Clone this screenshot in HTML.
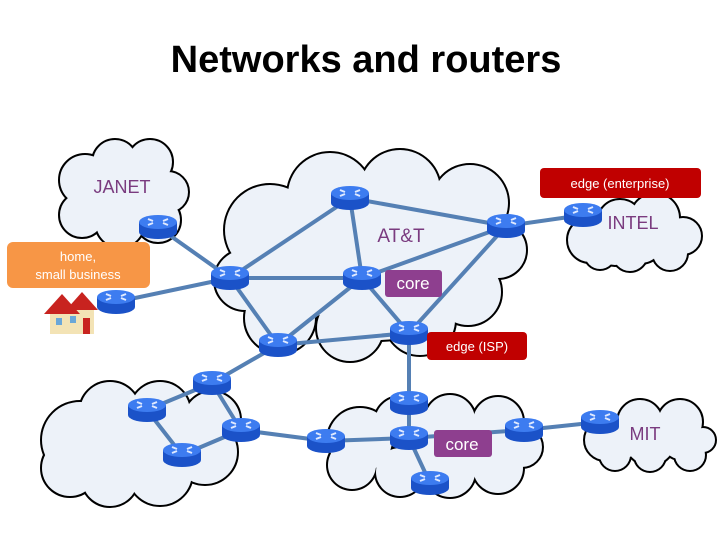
<!DOCTYPE html>
<html><head><meta charset="utf-8"><style>
body{margin:0;width:720px;height:540px;background:#fff;overflow:hidden;font-family:"Liberation Sans",sans-serif}
</style></head><body>
<svg width="720" height="540" viewBox="0 0 720 540" xmlns="http://www.w3.org/2000/svg">
<defs>
<g id="r">
<rect x="-19" y="-5" width="38" height="10" fill="#1b52c8"/>
<ellipse cx="0" cy="5" rx="19" ry="7" fill="#1b52c8"/>
<ellipse cx="0" cy="-5" rx="19" ry="7" fill="#3d7cf0"/>
<path d="M-10,-8 l5,2 M10,-8 l-5,2 M-10,-2 l5,-2 M10,-2 l-5,-2" stroke="#dfe9ff" stroke-width="2"/>
</g>
</defs>
<text x="366" y="72" font-size="38" font-weight="bold" text-anchor="middle" fill="#000">Networks and routers</text>
<g fill="#000" stroke="#000" stroke-width="4">
<g id="c1"><circle cx="85" cy="180" r="25"/><circle cx="115" cy="162" r="22"/><circle cx="150" cy="162" r="22"/><circle cx="168" cy="192" r="20"/><circle cx="158" cy="220" r="22"/><circle cx="120" cy="223" r="24"/><circle cx="82" cy="215" r="22"/><circle cx="100" cy="195" r="30"/><circle cx="140" cy="195" r="30"/></g>
<g id="c2"><circle cx="270" cy="230" r="45"/><circle cx="330" cy="195" r="42"/><circle cx="400" cy="190" r="40"/><circle cx="470" cy="203" r="38"/><circle cx="498" cy="250" r="28"/><circle cx="468" cy="292" r="33"/><circle cx="420" cy="320" r="35"/><circle cx="350" cy="328" r="33"/><circle cx="280" cy="318" r="35"/><circle cx="245" cy="280" r="30"/><circle cx="380" cy="260" r="80"/><circle cx="450" cy="250" r="42"/><circle cx="300" cy="280" r="40"/></g>
<g id="c3"><circle cx="80" cy="440" r="38"/><circle cx="70" cy="468" r="28"/><circle cx="110" cy="478" r="28"/><circle cx="160" cy="473" r="32"/><circle cx="205" cy="452" r="32"/><circle cx="212" cy="420" r="28"/><circle cx="160" cy="412" r="30"/><circle cx="110" cy="412" r="30"/><circle cx="140" cy="445" r="40"/></g>
<g id="c4"><circle cx="360" cy="440" r="32"/><circle cx="400" cy="422" r="25"/><circle cx="450" cy="420" r="25"/><circle cx="498" cy="422" r="25"/><circle cx="522" cy="447" r="20"/><circle cx="498" cy="468" r="25"/><circle cx="450" cy="472" r="25"/><circle cx="400" cy="472" r="24"/><circle cx="352" cy="465" r="24"/><circle cx="440" cy="448" r="40"/><circle cx="490" cy="446" r="30"/></g>
<g id="c5"><circle cx="590" cy="240" r="22"/><circle cx="620" cy="222" r="22"/><circle cx="655" cy="218" r="24"/><circle cx="683" cy="236" r="18"/><circle cx="670" cy="253" r="17"/><circle cx="630" cy="254" r="17"/><circle cx="600" cy="254" r="15"/><circle cx="640" cy="238" r="25"/><circle cx="615" cy="245" r="20"/><circle cx="665" cy="240" r="20"/></g>
<g id="c6"><circle cx="605" cy="440" r="20"/><circle cx="640" cy="422" r="22"/><circle cx="680" cy="422" r="22"/><circle cx="703" cy="440" r="12"/><circle cx="690" cy="455" r="15"/><circle cx="650" cy="456" r="15"/><circle cx="615" cy="455" r="15"/><circle cx="650" cy="440" r="25"/><circle cx="622" cy="442" r="17"/><circle cx="680" cy="442" r="17"/></g>
</g>
<g fill="#edf2f9">
<use href="#c1"/><use href="#c2"/><use href="#c3"/><use href="#c4"/><use href="#c5"/><use href="#c6"/>
</g>
<g stroke="#5580b4" stroke-width="4" fill="none">
<path d="M158,227 L230,278 M116,302 L230,278 M230,278 L350,198 M230,278 L362,278 M230,278 L278,345 M350,198 L506,226 M350,198 L362,278 M362,278 L506,226 M362,278 L278,345 M362,278 L409,333 M506,226 L409,333 M278,345 L409,333 M506,226 L583,215 M278,345 L212,383 M212,383 L147,410 M212,383 L241,430 M147,410 L182,455 M182,455 L241,430 M241,430 L326,441 M326,441 L409,438 M409,333 L409,403 M409,403 L409,438 M409,438 L430,483 M409,438 L524,430 M524,430 L600,422"/>
</g>
<g>
<use href="#r" x="158" y="227"/><use href="#r" x="116" y="302"/><use href="#r" x="230" y="278"/><use href="#r" x="350" y="198"/><use href="#r" x="506" y="226"/><use href="#r" x="362" y="278"/><use href="#r" x="409" y="333"/><use href="#r" x="278" y="345"/><use href="#r" x="583" y="215"/><use href="#r" x="212" y="383"/><use href="#r" x="147" y="410"/><use href="#r" x="241" y="430"/><use href="#r" x="182" y="455"/><use href="#r" x="326" y="441"/><use href="#r" x="409" y="403"/><use href="#r" x="409" y="438"/><use href="#r" x="430" y="483"/><use href="#r" x="524" y="430"/><use href="#r" x="600" y="422"/>
</g>
<g>
<rect x="50" y="310" width="44" height="24" fill="#f3e3b5"/>
<polygon points="44,314 62,294 80,314" fill="#c8231f"/>
<polygon points="66,310 82,292 98,310" fill="#c8231f"/>
<rect x="83" y="318" width="7" height="16" fill="#c8231f"/>
<rect x="56" y="318" width="6" height="7" fill="#6aa7d8"/>
<rect x="70" y="316" width="6" height="7" fill="#6aa7d8"/>
</g>
<text x="122" y="193" font-size="18" fill="#7a3b7f" text-anchor="middle">JANET</text>
<text x="401" y="242" font-size="19" fill="#7a3b7f" text-anchor="middle">AT&amp;T</text>
<text x="633" y="229" font-size="18" fill="#7a3b7f" text-anchor="middle">INTEL</text>
<text x="645" y="440" font-size="18" fill="#7a3b7f" text-anchor="middle">MIT</text>
<rect x="7" y="242" width="143" height="46" rx="6" fill="#f79646"/>
<text x="78" y="261" font-size="13" fill="#fff" text-anchor="middle">home,</text>
<text x="78" y="279" font-size="13" fill="#fff" text-anchor="middle">small business</text>
<rect x="540" y="168" width="161" height="30" rx="4" fill="#c00000"/>
<text x="620" y="188" font-size="13" fill="#fff" text-anchor="middle">edge (enterprise)</text>
<rect x="427" y="332" width="100" height="28" rx="4" fill="#c00000"/>
<text x="477" y="351" font-size="13" fill="#fff" text-anchor="middle">edge (ISP)</text>
<rect x="385" y="270" width="57" height="27" rx="3" fill="#8e3f8f"/>
<text x="413" y="289" font-size="17" fill="#fff" text-anchor="middle">core</text>
<rect x="434" y="430" width="58" height="27" rx="3" fill="#8e3f8f"/>
<text x="462" y="450" font-size="17" fill="#fff" text-anchor="middle">core</text>
</svg>
</body></html>
